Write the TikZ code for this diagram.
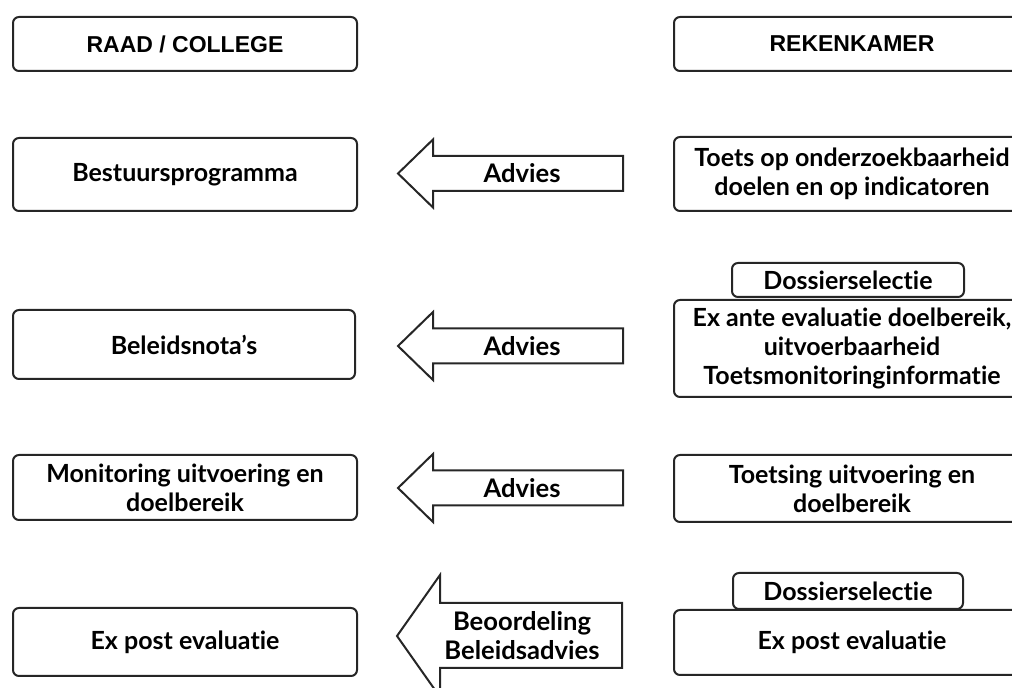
\documentclass[tikz,border=0pt]{standalone}
\usepackage{fontspec}
\setmainfont{Lato}[Ligatures=NoCommon]
\newfontfamily\headfont{Liberation Sans}
\usetikzlibrary{positioning}

\tikzset{
  box/.style={draw=black!85, line width=1pt, rounded corners=3pt, fill=white,
    align=center, font=\bfseries\fontsize{12.5}{14.5}\selectfont, inner sep=2pt},
  headbox/.style={box, font=\headfont\bfseries\fontsize{11.5}{13}\selectfont},
  blockarrow/.style={draw=black!85, line width=1pt, fill=white, line join=miter},
  arrowlabel/.style={align=center, font=\bfseries\fontsize{12.8}{14.5}\selectfont, inner sep=1pt}
}

\begin{document}
\begin{tikzpicture}[x=0.5pt, y=-0.5pt]
		\useasboundingbox (0,0) rectangle (1012,688);
		\clip (0,0) rectangle (1012,688);

		% kolom raad / college
		\node[headbox, minimum width=172pt, minimum height=27pt] (raad) at (185,44) {RAAD / COLLEGE};
		\node[box, minimum width=172pt, minimum height=36.5pt] (bestuur) at (185,174.5) {Bestuursprogramma};
		\node[box, minimum width=171pt, minimum height=34.5pt] (nota) at (184,344.5) {Beleidsnota's};
		\node[box, minimum width=172pt, minimum height=32.5pt] (monitor) at (185,487.5) {Monitoring uitvoering en\\doelbereik};
		\node[box, minimum width=172pt, minimum height=34pt] (expostL) at (185,642) {Ex post evaluatie};

		% kolom rekenkamer
		\node[headbox, minimum width=178pt, minimum height=27pt] (rekenkamer) at (852,44) {REKENKAMER};
		\node[box, minimum width=178pt, minimum height=37pt] (toets) at (852,174) {Toets op onderzoekbaarheid\\doelen en op indicatoren};
		\node[box, minimum width=116pt, minimum height=17pt] (dossier1) at (848,280) {Dossierselectie};
		\node[box, minimum width=178pt, minimum height=48.5pt] (exante) at (852,348.5) {Ex ante evaluatie doelbereik,\\uitvoerbaarheid\\Toetsmonitoringinformatie};
		\node[box, minimum width=178pt, minimum height=33.5pt] (toetsing) at (852,488.5) {Toetsing uitvoering en\\doelbereik};
		\node[box, minimum width=115pt, minimum height=18pt] (dossier2) at (848,591) {Dossierselectie};
		\node[box, minimum width=178pt, minimum height=32.5pt] (expostR) at (852,642.5) {Ex post evaluatie};

		% blokpijlen
		\foreach \y/\n in {173.5/advies1, 346/advies2, 488/advies3} {
			\draw[blockarrow] (623,\y-17.5) -- (433,\y-17.5) -- (433,\y-34) -- (398,\y)
				-- (433,\y+34) -- (433,\y+17.5) -- (623,\y+17.5) -- cycle;
			\node[arrowlabel] (\n) at (522,\y) {Advies};
		}
		\draw[blockarrow] (622,603) -- (440,603) -- (440,575) -- (397,636)
			-- (440,697) -- (440,668) -- (622,668) -- cycle;
		\node[arrowlabel] (beoordeling) at (522,635.5) {Beoordeling\\Beleidsadvies};
	\end{tikzpicture}
\end{document}
